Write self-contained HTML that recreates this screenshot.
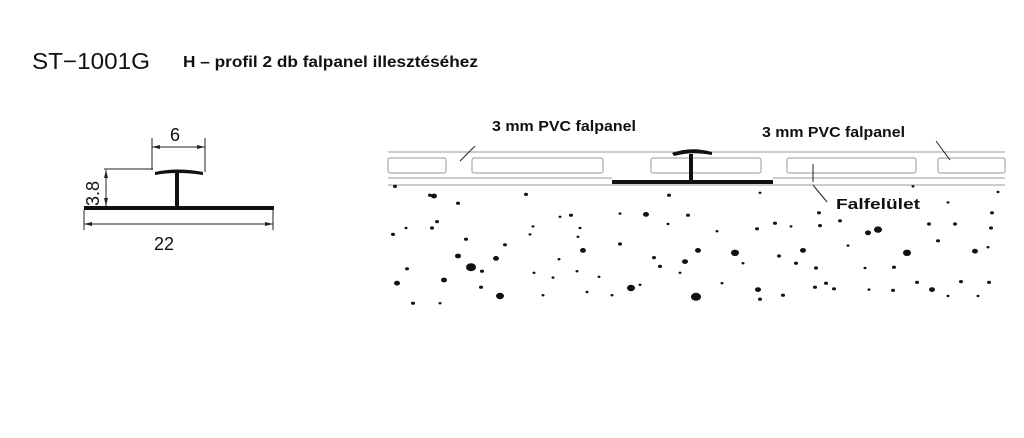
<!DOCTYPE html>
<html><head><style>
html,body{margin:0;padding:0;background:#fff;}
svg{display:block;}
text{font-family:"Liberation Sans",sans-serif;fill:#111;}
</style></head><body>
<svg width="1024" height="438" viewBox="0 0 1024 438" xmlns="http://www.w3.org/2000/svg">
<text x="32" y="69" font-size="23" textLength="118" lengthAdjust="spacingAndGlyphs">ST−1001G</text>
<text x="183" y="67" font-size="16" font-weight="bold" textLength="295" lengthAdjust="spacingAndGlyphs">H – profil 2 db falpanel illesztéséhez</text>

<rect x="84" y="206" width="190" height="4" fill="#111"/>
<rect x="175" y="171" width="4" height="37" fill="#111"/>
<path d="M155 172 Q177 167 203 172 L203 175 Q177 171 155 175 Z" fill="#111"/>
<g stroke="#222" stroke-width="1" fill="none">
<line x1="152" y1="138" x2="152" y2="170"/><line x1="205" y1="138" x2="205" y2="172"/>
<line x1="152" y1="147" x2="205" y2="147"/>
<line x1="104" y1="169" x2="153" y2="169"/>
<line x1="106" y1="170" x2="106" y2="206"/>
<line x1="84" y1="210" x2="84" y2="230"/><line x1="273" y1="210" x2="273" y2="230"/>
<line x1="84" y1="224" x2="273" y2="224"/>
</g>
<g fill="#222">
<path d="M152 147 l8 -2 v4z"/><path d="M205 147 l-8 -2 v4z"/>
<path d="M106 170 l-2 8 h4z"/><path d="M106 206 l-2 -8 h4z"/>
<path d="M84 224 l8 -2 v4z"/><path d="M273 224 l-8 -2 v4z"/>
</g>
<text x="170" y="141" font-size="18">6</text>
<text x="154" y="250" font-size="18">22</text>
<text transform="translate(99,206) rotate(-90)" font-size="18">3.8</text>

<g stroke="#999" stroke-width="1" fill="none">
<line x1="388" y1="152" x2="1005" y2="152"/>
<line x1="388" y1="178" x2="612" y2="178"/>
<line x1="773" y1="178" x2="1005" y2="178"/>
<line x1="388" y1="185" x2="1005" y2="185"/>
<rect x="388" y="158" width="58" height="15" rx="2"/>
<rect x="472" y="158" width="131" height="15" rx="2"/>
<rect x="651" y="158" width="110" height="15" rx="2"/>
<rect x="787" y="158" width="129" height="15" rx="2"/>
<rect x="938" y="158" width="67" height="15" rx="2"/>
</g>
<rect x="612" y="180" width="161" height="4" fill="#111"/>
<rect x="689" y="154" width="4" height="28" fill="#111"/>
<path d="M672 153 Q691 146 712 152 L712 155 Q691 151 674 156 Z" fill="#111"/>
<g stroke="#222" stroke-width="1" fill="none">
<line x1="475" y1="146" x2="460" y2="161"/><line x1="936" y1="141" x2="950" y2="160"/>
<line x1="813" y1="185" x2="827" y2="202"/><line x1="813" y1="164" x2="813" y2="182"/>
</g>
<text x="492" y="131" font-size="15" font-weight="bold" textLength="144" lengthAdjust="spacingAndGlyphs">3 mm PVC falpanel</text>
<text x="762" y="137" font-size="15" font-weight="bold" textLength="143" lengthAdjust="spacingAndGlyphs">3 mm PVC falpanel</text>
<text x="836" y="209" font-size="15" font-weight="bold" textLength="84" lengthAdjust="spacingAndGlyphs">Falfelület</text>

<g fill="#111" transform="translate(0,180) scale(1,0.8) translate(0,-180)">
<circle cx="471" cy="289" r="5"/><circle cx="500" cy="325" r="4"/><circle cx="631" cy="315" r="4"/>
<circle cx="696" cy="326" r="5"/><circle cx="878" cy="242" r="4"/><circle cx="868" cy="246" r="3"/>
<circle cx="735" cy="271" r="4"/><circle cx="907" cy="271" r="4"/><circle cx="583" cy="268" r="3"/>
<circle cx="698" cy="268" r="3"/><circle cx="458" cy="275" r="3"/><circle cx="496" cy="278" r="3"/>
<circle cx="646" cy="223" r="3"/><circle cx="434" cy="200" r="3"/><circle cx="430" cy="199" r="2"/>
<circle cx="397" cy="309" r="3"/><circle cx="444" cy="305" r="3"/><circle cx="758" cy="317" r="3"/>
<circle cx="803" cy="268" r="3"/><circle cx="932" cy="317" r="3"/><circle cx="975" cy="269" r="3"/>
<circle cx="685" cy="282" r="3"/><circle cx="395" cy="188" r="2"/><circle cx="526" cy="198" r="2"/>
<circle cx="669" cy="199" r="2"/><circle cx="571" cy="224" r="2"/><circle cx="560" cy="226" r="1.5"/>
<circle cx="437" cy="232" r="2"/><circle cx="432" cy="240" r="2"/><circle cx="393" cy="248" r="2"/>
<circle cx="406" cy="240" r="1.5"/><circle cx="466" cy="254" r="2"/><circle cx="505" cy="261" r="2"/>
<circle cx="407" cy="291" r="2"/><circle cx="482" cy="294" r="2"/><circle cx="534" cy="296" r="1.5"/>
<circle cx="481" cy="314" r="2"/><circle cx="413" cy="334" r="2"/><circle cx="440" cy="334" r="1.5"/>
<circle cx="620" cy="260" r="2"/><circle cx="654" cy="277" r="2"/><circle cx="660" cy="288" r="2"/>
<circle cx="559" cy="279" r="1.5"/><circle cx="578" cy="251" r="1.5"/><circle cx="620" cy="222" r="1.5"/>
<circle cx="688" cy="224" r="2"/><circle cx="757" cy="241" r="2"/><circle cx="775" cy="234" r="2"/>
<circle cx="791" cy="238" r="1.5"/><circle cx="820" cy="237" r="2"/><circle cx="819" cy="221" r="2"/>
<circle cx="840" cy="231" r="2"/><circle cx="848" cy="262" r="1.5"/><circle cx="779" cy="275" r="2"/>
<circle cx="796" cy="284" r="2"/><circle cx="816" cy="290" r="2"/><circle cx="865" cy="290" r="1.5"/>
<circle cx="894" cy="289" r="2"/><circle cx="938" cy="256" r="2"/><circle cx="955" cy="235" r="2"/>
<circle cx="929" cy="235" r="2"/><circle cx="992" cy="221" r="2"/><circle cx="991" cy="240" r="2"/>
<circle cx="988" cy="264" r="1.5"/><circle cx="989" cy="308" r="2"/><circle cx="961" cy="307" r="2"/>
<circle cx="917" cy="308" r="2"/><circle cx="893" cy="318" r="2"/><circle cx="834" cy="316" r="2"/>
<circle cx="826" cy="309" r="2"/><circle cx="815" cy="314" r="2"/><circle cx="783" cy="324" r="2"/>
<circle cx="760" cy="329" r="2"/><circle cx="668" cy="235" r="1.5"/><circle cx="717" cy="244" r="1.5"/>
<circle cx="743" cy="284" r="1.5"/><circle cx="577" cy="294" r="1.5"/><circle cx="599" cy="301" r="1.5"/>
<circle cx="587" cy="320" r="1.5"/><circle cx="612" cy="324" r="1.5"/><circle cx="543" cy="324" r="1.5"/>
<circle cx="869" cy="317" r="1.5"/><circle cx="948" cy="325" r="1.5"/><circle cx="978" cy="325" r="1.5"/>
<circle cx="533" cy="238" r="1.5"/><circle cx="553" cy="302" r="1.5"/><circle cx="458" cy="209" r="2"/>
<circle cx="580" cy="240" r="1.5"/><circle cx="760" cy="196" r="1.5"/><circle cx="913" cy="188" r="1.5"/>
<circle cx="998" cy="195" r="1.5"/><circle cx="948" cy="208" r="1.5"/><circle cx="680" cy="296" r="1.5"/>
<circle cx="722" cy="309" r="1.5"/><circle cx="640" cy="311" r="1.5"/><circle cx="530" cy="248" r="1.5"/>
</g>
</svg>
</body></html>
